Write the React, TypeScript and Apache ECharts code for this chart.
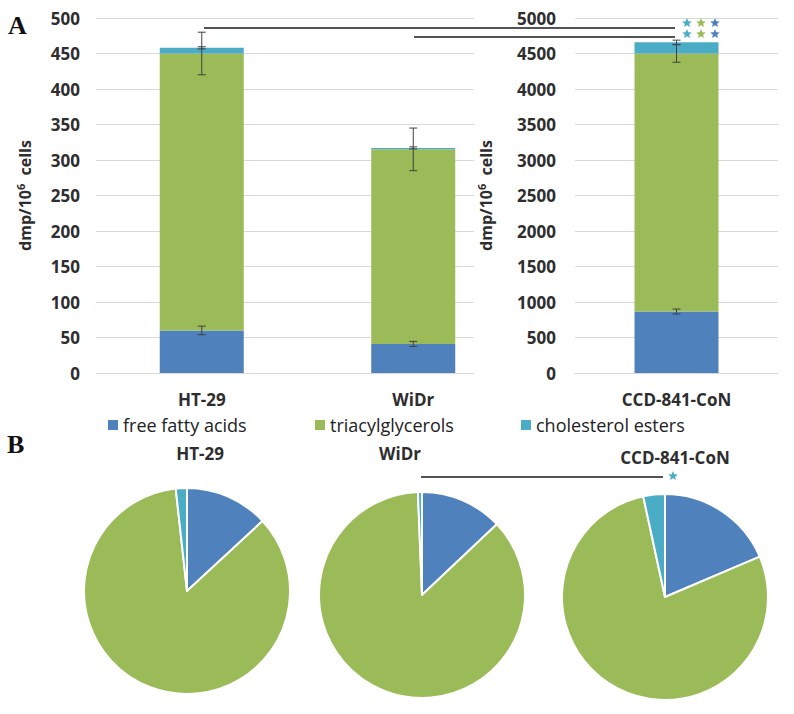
import React, { useEffect, useRef } from 'react';
import * as echarts from 'echarts';

const cellLines = ['HT-29', 'WiDr', 'CCD-841-CoN'];
const lipidClasses = ['free fatty acids', 'triacylglycerols', 'cholesterol esters'];
const freeFattyAcids = [60, 41, 866];
const triacylglycerols = [390, 274, 3634];
const cholesterolEsters = [8, 2, 158];
const ffaError = [6, 3.5, 35];
const tgError = [30, 30, 123];
const ceError = [1.5, 1.5, 30];
const colors = ['#4F81BD', '#9BBB59', '#4BACC6'];

const FONT = 'Open Sans';
const TXT = '#2e2e2e';

const errRender = (params: any, api: any) => {
  const lo = api.coord([api.value(0), api.value(1)]);
  const hi = api.coord([api.value(0), api.value(2)]);
  const w = 4;
  const style = { stroke: '#404040', lineWidth: 1 };
  return {
    type: 'group',
    children: [
      { type: 'line', shape: { x1: lo[0], y1: lo[1], x2: hi[0], y2: hi[1] }, style },
      { type: 'line', shape: { x1: lo[0] - w, y1: lo[1], x2: lo[0] + w, y2: lo[1] }, style },
      { type: 'line', shape: { x1: hi[0] - w, y1: hi[1], x2: hi[0] + w, y2: hi[1] }, style },
    ],
  };
};

function errData(indices: number[]) {
  const out: number[][] = [];
  indices.forEach((i, k) => {
    const f = freeFattyAcids[i];
    const t = f + triacylglycerols[i];
    const c = t + cholesterolEsters[i];
    out.push([k, f - ffaError[i], f + ffaError[i]]);
    out.push([k, t - tgError[i], t + tgError[i]]);
    out.push([k, c - ceError[i], c + ceError[i]]);
  });
  return out;
}

const axisName = {
  rich: {
    a: { fontSize: 16, fontWeight: 'bold', fontFamily: FONT, color: TXT, lineHeight: 20 },
    s: { fontSize: 11, fontWeight: 'bold', fontFamily: FONT, color: TXT, lineHeight: 12, verticalAlign: 'top' },
  },
};
const nameText = '{a|dmp/10}{s|6}{a|  cells}';

function starPoints(cx: number, cy: number, r: number) {
  const pts: number[][] = [];
  for (let i = 0; i < 10; i++) {
    const rr = i % 2 === 0 ? r : r * 0.45;
    const a = -Math.PI / 2 + (i * Math.PI) / 5;
    pts.push([cx + rr * Math.cos(a), cy + rr * Math.sin(a)]);
  }
  return pts;
}

export default function App() {
  const ref = useRef<HTMLDivElement>(null);
  useEffect(() => {
    if (!ref.current) return;
    const chart = echarts.init(ref.current, undefined, { renderer: 'svg' });
    const left = [0, 1];
    const right = [2];
    const labelStyle = { fontFamily: FONT, fontWeight: 'bold', fontSize: 17, color: TXT };
    const stacks = [freeFattyAcids, triacylglycerols, cholesterolEsters];

    const barSeries: any[] = [];
    lipidClasses.forEach((name, k) => {
      barSeries.push({
        type: 'bar', name, stack: 'L', xAxisIndex: 0, yAxisIndex: 0, barWidth: 84,
        itemStyle: { color: colors[k] }, data: left.map((i) => stacks[k][i]),
      });
      barSeries.push({
        type: 'bar', name, stack: 'R', xAxisIndex: 1, yAxisIndex: 1, barWidth: 84,
        itemStyle: { color: colors[k] }, data: right.map((i) => stacks[k][i]),
      });
    });

    const pieCenters = [[187, 591], [422, 595], [665, 597]];
    const pieSeries = cellLines.map((c, i) => ({
      type: 'pie', name: c, center: pieCenters[i], radius: 103, startAngle: 90,
      label: { show: false }, labelLine: { show: false }, silent: true,
      itemStyle: { borderColor: '#fff', borderWidth: 2 },
      data: lipidClasses.map((n, k) => ({ name: n, value: stacks[k][i], itemStyle: { color: colors[k] } })),
    }));

    const star = (x: number, y: number, color: string) => ({
      type: 'polygon', z: 10, shape: { points: starPoints(x, y, 5) }, style: { fill: color },
    });
    const hline = (x1: number, x2: number, y: number) => ({
      type: 'line', z: 10, shape: { x1, y1: y, x2, y2: y }, style: { stroke: '#1a1a1a', lineWidth: 1.3 },
    });
    const title = (t: string, x: number, y: number) => ({
      type: 'text', x, y, z: 10,
      style: { text: t, fill: TXT, fontSize: 17, fontWeight: 'bold', fontFamily: FONT, align: 'center', verticalAlign: 'middle' },
    });

    chart.setOption({
      animation: false,
      color: colors,
      grid: [
        { left: 96, right: 794 - 519, top: 18, bottom: 714 - 373 },
        { left: 575, right: 794 - 778, top: 18, bottom: 714 - 373 },
      ],
      xAxis: [
        {
          type: 'category', gridIndex: 0, data: left.map((i) => cellLines[i]), z: 0,
          axisLine: { lineStyle: { color: '#d9d9d9' } }, axisTick: { show: false },
          axisLabel: { ...labelStyle, margin: 18 },
        },
        {
          type: 'category', gridIndex: 1, data: right.map((i) => cellLines[i]), z: 2,
          axisLine: { lineStyle: { color: '#d9d9d9' } }, axisTick: { show: false },
          axisLabel: { ...labelStyle, margin: 18 },
        },
      ],
      yAxis: [
        {
          type: 'value', gridIndex: 0, min: 0, max: 500, interval: 50, z: 0,
          axisLine: { show: false }, axisTick: { show: false },
          splitLine: { lineStyle: { color: '#d9d9d9' } },
          axisLabel: { ...labelStyle, margin: 16, formatter: (v: number) => String(v) },
          name: nameText, nameLocation: 'middle', nameGap: 61, nameRotate: 90, nameTextStyle: axisName,
        },
        {
          type: 'value', gridIndex: 1, min: 0, max: 5000, interval: 500, z: 2,
          axisLine: { show: false }, axisTick: { show: false },
          splitLine: { lineStyle: { color: '#d9d9d9' } },
          axisLabel: { ...labelStyle, margin: 19, formatter: (v: number) => String(v) },
          name: nameText, nameLocation: 'middle', nameGap: 79, nameRotate: 90, nameTextStyle: axisName,
        },
      ],
      legend: lipidClasses.map((n, k) => ({
        data: [n], left: [108, 315, 521][k], top: 416, padding: 0, itemWidth: 10, itemHeight: 10, itemGap: 5,
        icon: 'rect', selectedMode: false,
        textStyle: { fontFamily: FONT, fontSize: 18, color: '#222', padding: [0, 0, 0, 0] },
      })),
      series: [
        ...barSeries,
        { type: 'custom', xAxisIndex: 0, yAxisIndex: 0, z: 5, renderItem: errRender, data: errData(left), encode: { x: 0, y: [1, 2] } },
        { type: 'custom', xAxisIndex: 1, yAxisIndex: 1, z: 5, renderItem: errRender, data: errData(right), encode: { x: 0, y: [1, 2] } },
        ...pieSeries,
      ],
      graphic: [
        { type: 'rect', z: 1, shape: { x: 474, y: 5, width: 100, height: 378 }, style: { fill: '#fff' } },
        hline(204, 675, 28),
        hline(414, 675, 37),
        star(687, 23, colors[2]), star(701, 23, colors[1]), star(715, 23, colors[0]),
        star(687, 34, colors[2]), star(701, 34, colors[1]), star(715, 34, colors[0]),
        hline(421, 663, 477),
        star(673, 476, colors[2]),
        { type: 'text', x: 8, y: 12, z: 10, style: { text: 'A', fill: '#111', fontSize: 26, fontWeight: 'bold', fontFamily: 'Liberation Serif' } },
        { type: 'text', x: 7, y: 431, z: 10, style: { text: 'B', fill: '#111', fontSize: 26, fontWeight: 'bold', fontFamily: 'Liberation Serif' } },
        title('HT-29', 200, 453),
        title('WiDr', 400, 453),
        title('CCD-841-CoN', 675, 457),
      ],
    });
    return () => chart.dispose();
  }, []);
  return (
    <div
      ref={ref}
      style={{ position: 'fixed', left: 0, top: 0, width: 794, height: 714, background: '#fff' }}
    />
  );
}
